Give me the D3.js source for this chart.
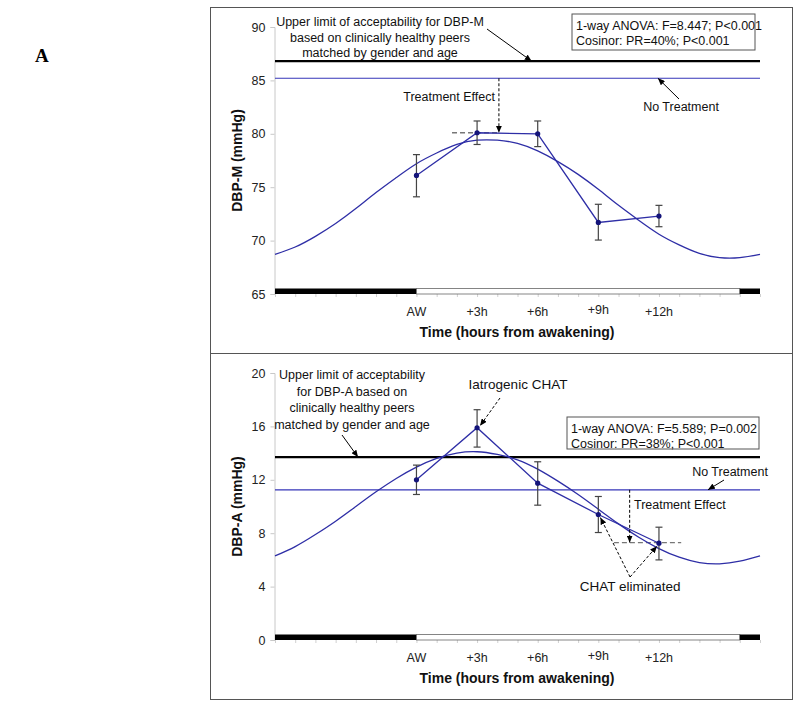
<!DOCTYPE html>
<html>
<head>
<meta charset="utf-8">
<script src="https://cdn.jsdelivr.net/npm/d3@7"></script>
<style>
  body { margin: 0; background: #fff; }
  svg { display: block; font-family: Arial, "Liberation Sans", sans-serif; }
</style>
</head>
<body>
<svg id="chart" width="800" height="708"></svg>
<script>
// sampling times, hours from awakening
const hours = [0, 3, 6, 9, 12];
const hourLabels = ["AW", "+3h", "+6h", "+9h", "+12h"];

// DBP-M: mean and error bar ends
const dbpM = [76.1, 80.1, 80.0, 71.7, 72.3];
const dbpMHigh = [78.05, 81.2, 81.2, 73.4, 73.3];
const dbpMLow = [74.1, 79.0, 78.8, 70.05, 71.3];

// DBP-A: mean and error bar ends
const dbpA = [12.0, 15.9, 11.75, 9.4, 7.25];
const dbpAHigh = [13.1, 17.25, 13.35, 10.75, 8.45];
const dbpALow = [10.9, 14.45, 10.1, 8.05, 6.0];

const curveHours = [-7, -6, -5, -4, -3, -2, -1, 0, 1, 2, 3, 4, 5, 6, 7, 8, 9, 10, 11, 12, 13, 14, 15, 16, 17];
const dbpMCosinor = [
  68.7, 69.4, 70.4, 71.6, 73.0, 74.5, 75.9, 77.2, 78.2, 79.0, 79.4, 79.4, 79.1,
  78.4, 77.4, 76.2, 74.8, 73.3, 71.9, 70.6, 69.6, 68.8, 68.4, 68.4, 68.7,
];
const dbpACosinor = [
  6.3, 7.0, 7.9, 8.9, 10.0, 11.1, 12.1, 12.95, 13.6, 14.0, 14.1, 13.9, 13.5,
  12.8, 11.9, 10.9, 9.8, 8.7, 7.7, 6.85, 6.2, 5.8, 5.7, 5.9, 6.3,
];

const dbpMLimit = 86.8;
const dbpMNoTreatment = 85.2;
const dbpALimit = 13.7;
const dbpANoTreatment = 11.25;

const yTicksM = [65, 70, 75, 80, 85, 90];
const yTicksA = [0, 4, 8, 12, 16, 20];

// rest / activity bar along the time axis
const sleepSpans = [
  { from: -7, to: 0, asleep: true },
  { from: 0, to: 16, asleep: false },
  { from: 16, to: 17, asleep: true },
];

const lineColor = "#2e2ea6";
const pointColor = "#14147a";
const font = "Arial, 'Liberation Sans', sans-serif";

const svg = d3.select("#chart");

const defs = svg.append("defs");
defs
  .append("marker")
  .attr("id", "arrow")
  .attr("markerUnits", "userSpaceOnUse")
  .attr("markerWidth", 8)
  .attr("markerHeight", 6)
  .attr("refX", 7)
  .attr("refY", 3)
  .attr("orient", "auto")
  .append("path")
  .attr("d", "M0,0 L7,3 L0,6 z")
  .attr("fill", "#000");

const x = d3.scaleLinear().domain([-7, 17]).range([275, 760]);

const panelLeft = 210.5;
const panelRight = 792.5;
const panelHeight = 346;

svg
  .append("text")
  .attr("x", 35)
  .attr("y", 62)
  .attr("font-family", "'Liberation Serif', 'DejaVu Serif', serif")
  .attr("font-weight", "bold")
  .attr("font-size", 19)
  .text("A");

const arrow = (g, x1, y1, x2, y2, dashed) => {
  g.append("line")
    .attr("x1", x1)
    .attr("y1", y1)
    .attr("x2", x2)
    .attr("y2", y2)
    .attr("stroke", "#000")
    .attr("stroke-width", 1)
    .attr("stroke-dasharray", dashed ? "3,2" : null)
    .attr("marker-end", "url(#arrow)");
};

const textBlock = (g, lines, cx, y0, step, anchor = "middle") => {
  g.selectAll(null)
    .data(lines)
    .join("text")
    .attr("x", cx)
    .attr("y", (d, i) => y0 + i * step)
    .attr("text-anchor", anchor)
    .attr("font-size", 12.5)
    .attr("fill", "#111")
    .text((d) => d);
};

const drawPanel = (top, cfg) => {
  const g = svg.append("g");
  const y = d3
    .scaleLinear()
    .domain(cfg.yDomain)
    .range([top + 286.5, top + 19.5]);
  const plotBottom = top + 286.5;

  g.append("rect")
    .attr("x", panelLeft)
    .attr("y", top)
    .attr("width", panelRight - panelLeft)
    .attr("height", panelHeight)
    .attr("fill", "none")
    .attr("stroke", "#555")
    .attr("stroke-width", 1);

  // y axis
  const yAxis = g
    .append("g")
    .attr("transform", `translate(274.5,0)`)
    .call(d3.axisLeft(y).tickValues(cfg.yTicks).tickSize(4).tickPadding(5));
  yAxis.select(".domain").attr("stroke", "#c8c8c8");
  yAxis.selectAll(".tick line").attr("stroke", "#c8c8c8");
  yAxis
    .selectAll(".tick text")
    .attr("font-family", font)
    .attr("font-size", 12.5)
    .attr("fill", "#222");

  // hourly minor ticks under the bar
  const xAxis = g
    .append("g")
    .attr("transform", `translate(0,${plotBottom})`)
    .call(
      d3.axisBottom(x).tickValues(curveHours).tickSize(3).tickFormat("")
    );
  xAxis.select(".domain").remove();
  xAxis.selectAll(".tick line").attr("stroke", "#d0d0d0");

  g.selectAll(".hourLabel")
    .data(hours)
    .join("text")
    .attr("class", "hourLabel")
    .attr("x", (d) => x(d))
    .attr("y", (d, i) => plotBottom + (hourLabels[i] === "+9h" ? 20 : 22))
    .attr("text-anchor", "middle")
    .attr("font-size", 12.5)
    .attr("fill", "#222")
    .text((d, i) => hourLabels[i]);

  g.append("text")
    .attr("x", 517)
    .attr("y", plotBottom + 43)
    .attr("text-anchor", "middle")
    .attr("font-size", 14)
    .attr("font-weight", "bold")
    .attr("fill", "#111")
    .text("Time (hours from awakening)");

  const yMid = (y.range()[0] + y.range()[1]) / 2;
  g.append("text")
    .attr("transform", `translate(242,${yMid}) rotate(-90)`)
    .attr("text-anchor", "middle")
    .attr("font-size", 14)
    .attr("font-weight", "bold")
    .attr("fill", "#111")
    .text(cfg.yLabel);

  // rest / activity bar
  g.selectAll(".sleepBar")
    .data(sleepSpans)
    .join("rect")
    .attr("class", "sleepBar")
    .attr("x", (d) => x(d.from))
    .attr("y", plotBottom - 5.5)
    .attr("width", (d) => x(d.to) - x(d.from))
    .attr("height", 5.5)
    .attr("fill", (d) => (d.asleep ? "#000" : "#fff"))
    .attr("stroke", (d) => (d.asleep ? "#000" : "#666"))
    .attr("stroke-width", (d) => (d.asleep ? 0 : 0.8));

  // reference lines
  g.append("line")
    .attr("x1", x(-7))
    .attr("x2", x(17))
    .attr("y1", y(cfg.limit))
    .attr("y2", y(cfg.limit))
    .attr("stroke", "#000")
    .attr("stroke-width", 2.2);
  g.append("line")
    .attr("x1", x(-7))
    .attr("x2", x(17))
    .attr("y1", y(cfg.noTreatment))
    .attr("y2", y(cfg.noTreatment))
    .attr("stroke", "#3535b8")
    .attr("stroke-width", 1.2);

  // gray dashed treatment target
  g.append("line")
    .attr("x1", x(cfg.target[0]))
    .attr("x2", x(cfg.target[1]))
    .attr("y1", y(cfg.target[2]))
    .attr("y2", y(cfg.target[2]))
    .attr("stroke", "#777")
    .attr("stroke-width", 1.3)
    .attr("stroke-dasharray", "5,3");

  // cosinor curve
  const curve = d3
    .line()
    .x((d, i) => x(curveHours[i]))
    .y((d) => y(d))
    .curve(d3.curveNatural);
  g.append("path")
    .attr("d", curve(cfg.cosinor))
    .attr("fill", "none")
    .attr("stroke", lineColor)
    .attr("stroke-width", 1.3);

  // error bars
  const bars = g
    .selectAll(".errBar")
    .data(hours)
    .join("g")
    .attr("class", "errBar")
    .attr("stroke", "#444")
    .attr("stroke-width", 1.2);
  bars
    .append("line")
    .attr("x1", (d) => x(d))
    .attr("x2", (d) => x(d))
    .attr("y1", (d, i) => y(cfg.high[i]))
    .attr("y2", (d, i) => y(cfg.low[i]));
  bars
    .append("line")
    .attr("x1", (d) => x(d) - 3.5)
    .attr("x2", (d) => x(d) + 3.5)
    .attr("y1", (d, i) => y(cfg.high[i]))
    .attr("y2", (d, i) => y(cfg.high[i]));
  bars
    .append("line")
    .attr("x1", (d) => x(d) - 3.5)
    .attr("x2", (d) => x(d) + 3.5)
    .attr("y1", (d, i) => y(cfg.low[i]))
    .attr("y2", (d, i) => y(cfg.low[i]));

  // mean profile
  const meanLine = d3
    .line()
    .x((d, i) => x(hours[i]))
    .y((d) => y(d));
  g.append("path")
    .attr("d", meanLine(cfg.mean))
    .attr("fill", "none")
    .attr("stroke", lineColor)
    .attr("stroke-width", 1.3);
  g.selectAll(".pointCircles")
    .data(cfg.mean)
    .join("circle")
    .attr("class", "pointCircles")
    .attr("cx", (d, i) => x(hours[i]))
    .attr("cy", (d) => y(d))
    .attr("r", 2.6)
    .attr("fill", pointColor);

  // statistics box
  g.append("rect")
    .attr("x", cfg.box[0])
    .attr("y", top + cfg.box[1])
    .attr("width", cfg.box[2])
    .attr("height", cfg.box[3])
    .attr("fill", "#fff")
    .attr("stroke", "#555")
    .attr("stroke-width", 1);
  textBlock(g, cfg.stats, cfg.box[0] + 4, top + cfg.box[1] + 15.5, 15, "start");

  return { g, y };
};

// panel A, top: DBP-M
const top1 = 7.5;
const p1 = drawPanel(top1, {
  yDomain: [65, 90],
  yTicks: yTicksM,
  yLabel: "DBP-M (mmHg)",
  mean: dbpM,
  high: dbpMHigh,
  low: dbpMLow,
  cosinor: dbpMCosinor,
  limit: dbpMLimit,
  noTreatment: dbpMNoTreatment,
  target: [1.76, 4.1, 80.1],
  box: [572, 6.5, 183, 36],
  stats: ["1-way ANOVA: F=8.447; P<0.001", "Cosinor: PR=40%; P<0.001"],
});
textBlock(
  p1.g,
  [
    "Upper limit of acceptability for DBP-M",
    "based on clinically healthy peers",
    "matched by gender and age",
  ],
  380,
  26,
  15.5
);
arrow(p1.g, 487, 29, x(5.7), p1.y(dbpMLimit));
textBlock(p1.g, ["No Treatment"], 681, 111, 0);
arrow(p1.g, 679, 99, x(11.95), p1.y(dbpMNoTreatment));
textBlock(p1.g, ["Treatment Effect"], 495, 101, 0, "end");
arrow(p1.g, x(4.08), p1.y(dbpMNoTreatment), x(4.08), p1.y(80.1), true);

// panel A, bottom: DBP-A
const top2 = top1 + panelHeight;
const p2 = drawPanel(top2, {
  yDomain: [0, 20],
  yTicks: yTicksA,
  yLabel: "DBP-A (mmHg)",
  mean: dbpA,
  high: dbpAHigh,
  low: dbpALow,
  cosinor: dbpACosinor,
  limit: dbpALimit,
  noTreatment: dbpANoTreatment,
  target: [9.77, 13.1, 7.3],
  box: [567, 63.5, 192, 32],
  stats: ["1-way ANOVA: F=5.589; P=0.002", "Cosinor: PR=38%; P<0.001"],
});
textBlock(
  p2.g,
  [
    "Upper limit of acceptability",
    "for DBP-A based on",
    "clinically healthy peers",
    "matched by gender and age",
  ],
  352,
  379,
  16.5
);
arrow(p2.g, 342, 435, 358, p2.y(dbpALimit));
p2.g
  .append("text")
  .attr("x", 518)
  .attr("y", 389)
  .attr("text-anchor", "middle")
  .attr("font-size", 13.5)
  .attr("fill", "#111")
  .text("Iatrogenic CHAT");
arrow(p2.g, 500, 398, x(3) + 3, p2.y(dbpA[1]) - 2, true);
textBlock(p2.g, ["No Treatment"], 730, 476, 0);
arrow(p2.g, 724, 480, 708, p2.y(dbpANoTreatment));
textBlock(p2.g, ["Treatment Effect"], 634, 509, 0, "start");
arrow(p2.g, x(10.55), p2.y(dbpANoTreatment), x(10.55), p2.y(7.3), true);
p2.g
  .append("text")
  .attr("x", x(10.57))
  .attr("y", 591)
  .attr("text-anchor", "middle")
  .attr("font-size", 13.5)
  .attr("fill", "#111")
  .text("CHAT eliminated");
arrow(p2.g, x(10.57), 577, x(9) + 2, p2.y(dbpA[3]) + 3, true);
arrow(p2.g, x(10.57), 577, x(12) - 2, p2.y(dbpA[4]) + 3, true);
</script>
</body>
</html>
